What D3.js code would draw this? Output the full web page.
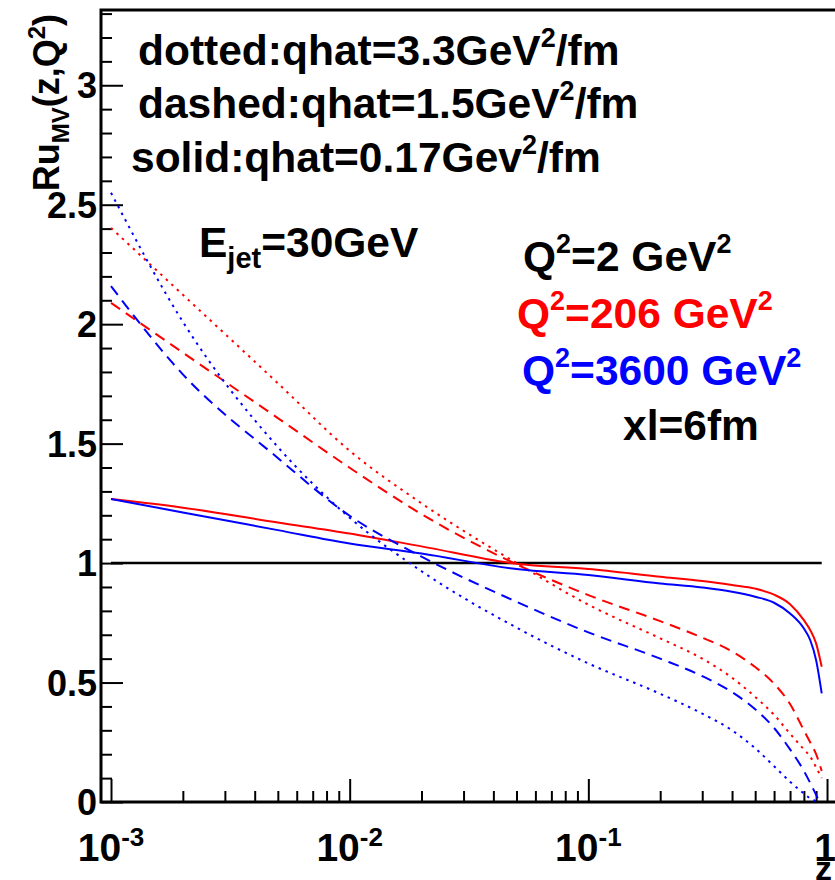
<!DOCTYPE html>
<html>
<head>
<meta charset="utf-8">
<script src="https://cdn.jsdelivr.net/npm/d3@7"></script>
<style>
  body { margin: 0; background: #fff; }
  text { font-family: "Liberation Sans", Arial, Helvetica, sans-serif; font-weight: bold; }
</style>
</head>
<body>
<svg id="chart"></svg>
<script>
const zVals = [0.001, 0.002, 0.005, 0.01, 0.02, 0.05, 0.1, 0.2, 0.3, 0.4, 0.5, 0.6, 0.7, 0.8, 0.85, 0.9, 0.95];

// Q^2 = 2 GeV^2 reference (ratio to itself)
const refZ = [0.001, 0.95];
const refVals = [1, 1];

// Q^2 = 206 GeV^2 (red)
const redSolid  = [1.268, 1.232, 1.17, 1.124, 1.07, 0.997, 0.975, 0.943, 0.925, 0.908, 0.893, 0.868, 0.828, 0.761, 0.72, 0.664, 0.566];
const redDashed = [2.089, 1.881, 1.607, 1.399, 1.205, 0.995, 0.866, 0.757, 0.688, 0.630, 0.565, 0.495, 0.41, 0.30, 0.25, 0.20, 0.13];
const redDotted = [2.403, 2.123, 1.753, 1.47, 1.25, 1.0, 0.826, 0.685, 0.60, 0.52, 0.44, 0.365, 0.286, 0.22, 0.19, 0.145, 0.10];

// Q^2 = 3600 GeV^2 (blue)
const blueSolid  = [1.268, 1.212, 1.138, 1.082, 1.04, 0.975, 0.95, 0.915, 0.898, 0.88, 0.859, 0.834, 0.789, 0.726, 0.678, 0.594, 0.455];
const blueDashed = [2.159, 1.79, 1.44, 1.198, 1.027, 0.838, 0.71, 0.60, 0.527, 0.46, 0.388, 0.31, 0.22, 0.13, 0.08, 0.03, -0.02];
const blueDotted = [2.55, 2.01, 1.486, 1.19, 0.966, 0.73, 0.58, 0.453, 0.37, 0.30, 0.225, 0.15, 0.085, 0.035, 0.015, 0.0, -0.05];

const yMajor = [0, 0.5, 1, 1.5, 2, 2.5, 3];
const yMajorLabels = ["0", "0.5", "1", "1.5", "2", "2.5", "3"];
const xDecades = [0.001, 0.01, 0.1, 1];
const xDecadeLabels = [["10", "-3"], ["10", "-2"], ["10", "-1"], ["1", ""]];

const width = 835, height = 880;
const frame = { left: 101, right: 835, top: 10, bottom: 802 };

const svg = d3.select('#chart')
  .attr('width', width)
  .attr('height', height);

const x = d3.scaleLog()
  .domain([0.000908, 1.08])
  .range([frame.left, frame.right]);

const y = d3.scaleLinear()
  .domain([0, 3.315])
  .range([frame.bottom, frame.top]);

svg.append('defs').append('clipPath')
  .attr('id', 'clip')
  .append('rect')
  .attr('x', frame.left)
  .attr('y', frame.top)
  .attr('width', frame.right - frame.left)
  .attr('height', frame.bottom - frame.top);

// minor ticks
let yMinor = d3.range(1, 34).map(d => d / 10).filter(d => Math.abs(d * 2 - Math.round(d * 2)) > 1e-6);
svg.append('g')
  .attr('transform', `translate(${frame.left},0)`)
  .call(d3.axisLeft(y).tickValues(yMinor).tickSize(-11).tickFormat(''))
  .call(g => g.select('.domain').remove())
  .selectAll('line').attr('stroke', '#000').attr('stroke-width', 2);

svg.append('g')
  .attr('transform', `translate(${frame.left},0)`)
  .call(d3.axisLeft(y).tickValues(yMajor).tickSize(-22).tickFormat(''))
  .call(g => g.select('.domain').remove())
  .selectAll('line').attr('stroke', '#000').attr('stroke-width', 2);

let xMinor = [];
[0.001, 0.01, 0.1].forEach(dec => {
  for (let k = 2; k <= 9; k++) xMinor.push(dec * k);
});
svg.append('g')
  .attr('transform', `translate(0,${frame.bottom})`)
  .call(d3.axisBottom(x).tickValues(xMinor).tickSize(-11).tickFormat(''))
  .call(g => g.select('.domain').remove())
  .selectAll('line').attr('stroke', '#000').attr('stroke-width', 2);

svg.append('g')
  .attr('transform', `translate(0,${frame.bottom})`)
  .call(d3.axisBottom(x).tickValues(xDecades).tickSize(-23).tickFormat(''))
  .call(g => g.select('.domain').remove())
  .selectAll('line').attr('stroke', '#000').attr('stroke-width', 2);

// frame lines (left, top, bottom)
svg.append('path')
  .attr('d', `M${frame.right},${frame.top}H${frame.left}V${frame.bottom}H${frame.right}`)
  .attr('fill', 'none')
  .attr('stroke', '#000')
  .attr('stroke-width', 3);

// y tick labels
svg.append('g').selectAll('text')
  .data(yMajor)
  .enter()
  .append('text')
  .attr('x', 97)
  .attr('y', d => y(d) + 13)
  .attr('text-anchor', 'end')
  .attr('font-size', 36)
  .text((d, i) => yMajorLabels[i]);

// x tick labels
const xl = svg.append('g').selectAll('text')
  .data(xDecades)
  .enter()
  .append('text')
  .attr('x', (d, i) => i === xDecades.length - 1 ? x(d) - 2 : x(d))
  .attr('y', 861)
  .attr('text-anchor', 'middle')
  .attr('font-size', 39);
xl.append('tspan').text((d, i) => xDecadeLabels[i][0]);
xl.append('tspan')
  .attr('dy', -15)
  .attr('font-size', 26)
  .text((d, i) => xDecadeLabels[i][1]);

svg.append('text')
  .attr('x', 832)
  .attr('y', 880)
  .attr('text-anchor', 'end')
  .attr('font-size', 34)
  .text('z');

// y axis title
const yt = svg.append('text')
  .attr('transform', 'translate(59,14) rotate(-90)')
  .attr('text-anchor', 'end')
  .attr('font-size', 36);
yt.append('tspan').text('Ru');
yt.append('tspan').attr('dy', 10).attr('font-size', 24).text('MV');
yt.append('tspan').attr('dy', -10).text('(z,Q');
yt.append('tspan').attr('dy', -14).attr('font-size', 24).text('2');
yt.append('tspan').attr('dy', 14).text(')');

// curves
const line = d3.line()
  .x(d => x(d[0]))
  .y(d => y(d[1]))
  .curve(d3.curveMonotoneX);

const series = [
  { z: refZ, v: refVals, color: '#000', dash: null, w: 2.5 },
  { z: zVals, v: redSolid, color: '#ff0000', dash: null, w: 2 },
  { z: zVals, v: redDashed, color: '#ff0000', dash: '11,7', w: 2 },
  { z: zVals, v: redDotted, color: '#ff0000', dash: '2.5,5', w: 2 },
  { z: zVals, v: blueSolid, color: '#0000ff', dash: null, w: 2 },
  { z: zVals, v: blueDashed, color: '#0000ff', dash: '11,7', w: 2 },
  { z: zVals, v: blueDotted, color: '#0000ff', dash: '2.5,5', w: 2 }
];

svg.append('g')
  .attr('clip-path', 'url(#clip)')
  .selectAll('path')
  .data(series)
  .enter()
  .append('path')
  .attr('d', s => line(s.z.map((z, i) => [z, s.v[i]])))
  .attr('fill', 'none')
  .attr('stroke', s => s.color)
  .attr('stroke-width', s => s.w)
  .attr('stroke-dasharray', s => s.dash);

// annotations
function label(xp, yp, parts, color) {
  const t = svg.append('text')
    .attr('x', xp)
    .attr('y', yp)
    .attr('font-size', 42.5)
    .attr('fill', color || '#000');
  parts.forEach(p => {
    const ts = t.append('tspan').text(p.t);
    if (p.sup) ts.attr('dy', -18).attr('font-size', 27);
    else if (p.sub) ts.attr('dy', 11).attr('font-size', 29);
    if (p.back) ts.attr('dy', p.back);
  });
}

label(138, 65, [{ t: 'dotted:qhat=3.3GeV' }, { t: '2', sup: true }, { t: '/fm', back: 18 }]);
label(138, 118, [{ t: 'dashed:qhat=1.5GeV' }, { t: '2', sup: true }, { t: '/fm', back: 18 }]);
label(131, 172, [{ t: 'solid:qhat=0.17Gev' }, { t: '2', sup: true }, { t: '/fm', back: 18 }]);
label(199, 257, [{ t: 'E' }, { t: 'jet', sub: true }, { t: '=30GeV', back: -11 }]);
label(523, 271, [{ t: 'Q' }, { t: '2', sup: true }, { t: '=2 GeV', back: 18 }, { t: '2', sup: true }]);
label(517, 328, [{ t: 'Q' }, { t: '2', sup: true }, { t: '=206 GeV', back: 18 }, { t: '2', sup: true }], '#ff0000');
label(522, 385, [{ t: 'Q' }, { t: '2', sup: true }, { t: '=3600 GeV', back: 18 }, { t: '2', sup: true }], '#0000ff');
label(623, 440, [{ t: 'xl=6fm' }]);
</script>
</body>
</html>
